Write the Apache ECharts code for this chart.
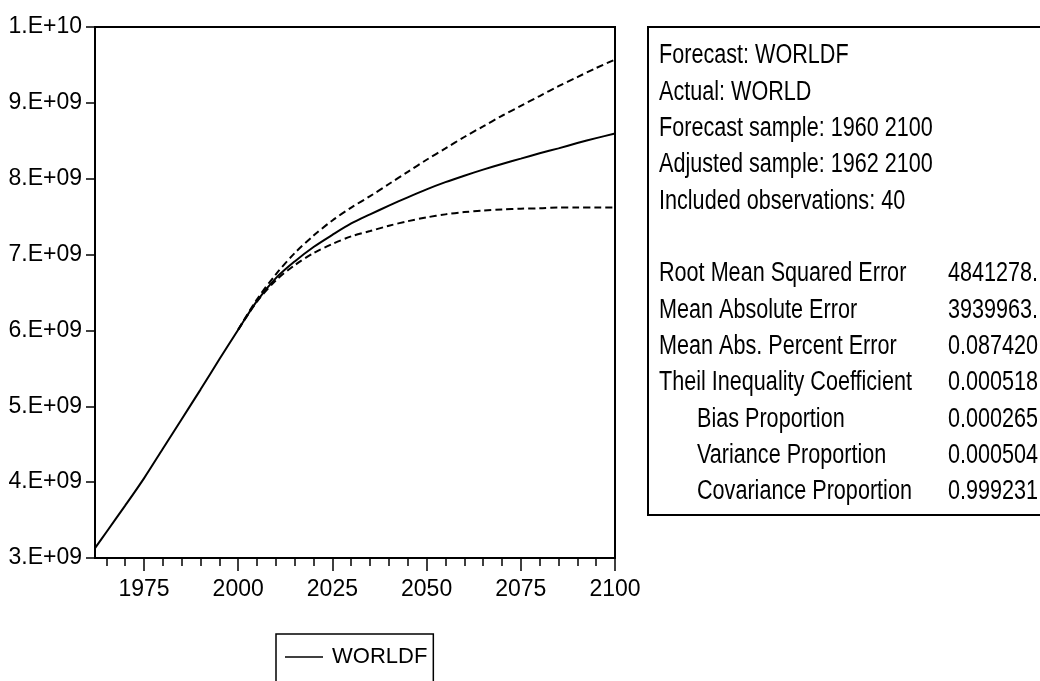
<!DOCTYPE html>
<html>
<head>
    <meta charset="utf-8">
    <title>WORLDF forecast</title>
    <script type="text/javascript" src="https://cdn.jsdelivr.net/npm/echarts@6/dist/echarts.min.js"></script>
    <style>
        html, body { margin: 0; padding: 0; background: #fff; }
    </style>
</head>
<body>
<div id="main" style="width: 1040px;height:681px;"></div>
<script type="text/javascript">
    // data
    var years = [1962, 1965, 1970, 1975, 1980, 1985, 1990, 1995, 2000, 2005, 2010, 2015, 2020,
        2025, 2030, 2035, 2040, 2045, 2050, 2055, 2060, 2065, 2070, 2075, 2080, 2085, 2090, 2095, 2100];
    var worldf = [3.13e9, 3.34e9, 3.69e9, 4.05e9, 4.44e9, 4.83e9, 5.22e9, 5.62e9, 6.01e9, 6.39e9, 6.69e9, 6.91e9, 7.10e9,
        7.26e9, 7.41e9, 7.53e9, 7.645e9, 7.755e9, 7.86e9, 7.955e9, 8.04e9, 8.12e9, 8.195e9, 8.265e9, 8.335e9, 8.40e9, 8.47e9, 8.535e9, 8.595e9];

    // +/- 2 S.E. bands
    var bandYears = [2000, 2005, 2010, 2015, 2020, 2025, 2030, 2035, 2040, 2045, 2050, 2055, 2060,
        2065, 2070, 2075, 2080, 2085, 2090, 2095, 2100];
    var upper = [6.01e9, 6.41e9, 6.74e9, 7.02e9, 7.25e9, 7.45e9, 7.62e9, 7.77e9, 7.93e9, 8.09e9, 8.25e9, 8.40e9, 8.55e9,
        8.69e9, 8.83e9, 8.96e9, 9.09e9, 9.22e9, 9.34e9, 9.46e9, 9.57e9];
    var lower = [6.01e9, 6.38e9, 6.66e9, 6.86e9, 7.02e9, 7.14e9, 7.24e9, 7.31e9, 7.38e9, 7.44e9, 7.49e9, 7.53e9, 7.56e9,
        7.58e9, 7.595e9, 7.605e9, 7.61e9, 7.62e9, 7.62e9, 7.62e9, 7.62e9];

    var majorYears = [1975, 2000, 2025, 2050, 2075, 2100];
    var minorYears = [1965, 1970, 1975, 1980, 1985, 1990, 1995, 2000, 2005, 2010, 2015, 2020, 2025, 2030,
        2035, 2040, 2045, 2050, 2055, 2060, 2065, 2070, 2075, 2080, 2085, 2090, 2095, 2100];
    var yTickLabels = ['3.E+09', '4.E+09', '5.E+09', '6.E+09', '7.E+09', '8.E+09', '9.E+09', '1.E+10'];

    var headerLines = ['Forecast: WORLDF', 'Actual: WORLD', 'Forecast sample: 1960 2100',
        'Adjusted sample: 1962 2100', 'Included observations: 40'];
    var statNames = ['Root Mean Squared Error', 'Mean Absolute Error', 'Mean Abs. Percent Error',
        'Theil Inequality Coefficient', 'Bias Proportion', 'Variance Proportion', 'Covariance Proportion'];
    var statValues = ['4841278.', '3939963.', '0.087420', '0.000518', '0.000265', '0.000504', '0.999231'];

    var FONT = "'Liberation Sans', Arial, sans-serif";

    function pairs(xs, ys) {
        return xs.map(function (x, i) { return [x, ys[i]]; });
    }

    // stats box, narrow text made by squeezing Liberation Sans
    var graphics = [{
        type: 'rect',
        shape: {x: 648, y: 27, width: 460, height: 488},
        style: {fill: 'none', stroke: '#000', lineWidth: 2}
    }];
    function addText(t, x, y) {
        graphics.push({
            type: 'text', x: x, y: y, scaleX: 0.8,
            style: {text: t, font: '27px ' + FONT, fill: '#000', verticalAlign: 'middle'}
        });
    }
    headerLines.forEach(function (t, i) {
        addText(t, 659, 56 + i * 36.3);
    });
    statNames.forEach(function (t, i) {
        addText(t, i >= 4 ? 697 : 659, 274 + i * 36.3);
        addText(statValues[i], 948, 274 + i * 36.3);
    });

    var myChart = echarts.init(document.getElementById('main'));

    var option = {
        animation: false,
        backgroundColor: '#fff',
        textStyle: {fontFamily: FONT},
        grid: {
            left: 95, top: 27, right: 425, bottom: 123,
            show: true, borderColor: '#000', borderWidth: 2
        },
        legend: {
            data: ['WORLDF'],
            left: 276, top: 634,
            padding: [12, 6, 40, 9],
            borderColor: '#000', borderWidth: 1.5,
            icon: 'rect', itemWidth: 38, itemHeight: 1.5,
            textStyle: {fontSize: 22, color: '#000', fontFamily: FONT, padding: [0, 0, 0, 4]}
        },
        xAxis: [{
            type: 'value', min: 1962, max: 2100,
            axisLine: {lineStyle: {color: '#000', width: 2}},
            axisTick: {customValues: minorYears, length: 8, lineStyle: {color: '#000', width: 1.5}},
            axisLabel: {
                customValues: majorYears, margin: 20, fontSize: 23, color: '#000', fontFamily: FONT,
                formatter: function (v) { return String(v); }
            },
            splitLine: {show: false}
        }, {
            type: 'value', min: 1962, max: 2100, position: 'bottom',
            axisLine: {show: false},
            axisTick: {customValues: majorYears, length: 13, lineStyle: {color: '#000', width: 1.5}},
            axisLabel: {show: false},
            splitLine: {show: false}
        }],
        yAxis: {
            type: 'value', min: 3e9, max: 1e10, interval: 1e9,
            axisLine: {show: true, lineStyle: {color: '#000', width: 2}},
            axisTick: {show: true, length: 9, lineStyle: {color: '#000', width: 1.5}},
            axisLabel: {
                margin: 13, fontSize: 23, color: '#000', fontFamily: FONT,
                formatter: function (v) { return yTickLabels[Math.round((v - 3e9) / 1e9)]; }
            },
            splitLine: {show: false}
        },
        series: [{
            name: 'WORLDF', type: 'line', xAxisIndex: 0,
            data: pairs(years, worldf),
            symbol: 'none', smooth: 0.3,
            itemStyle: {color: '#000'},
            lineStyle: {color: '#000', width: 2}
        }, {
            name: 'upper', type: 'line', xAxisIndex: 0,
            data: pairs(bandYears, upper),
            symbol: 'none', smooth: 0.3,
            itemStyle: {color: '#000'},
            lineStyle: {color: '#000', width: 2, type: [7, 4]}
        }, {
            name: 'lower', type: 'line', xAxisIndex: 0,
            data: pairs(bandYears, lower),
            symbol: 'none', smooth: 0.3,
            itemStyle: {color: '#000'},
            lineStyle: {color: '#000', width: 2, type: [7, 4]}
        }],
        graphic: graphics
    };

    myChart.setOption(option);
</script>
</body>
</html>
